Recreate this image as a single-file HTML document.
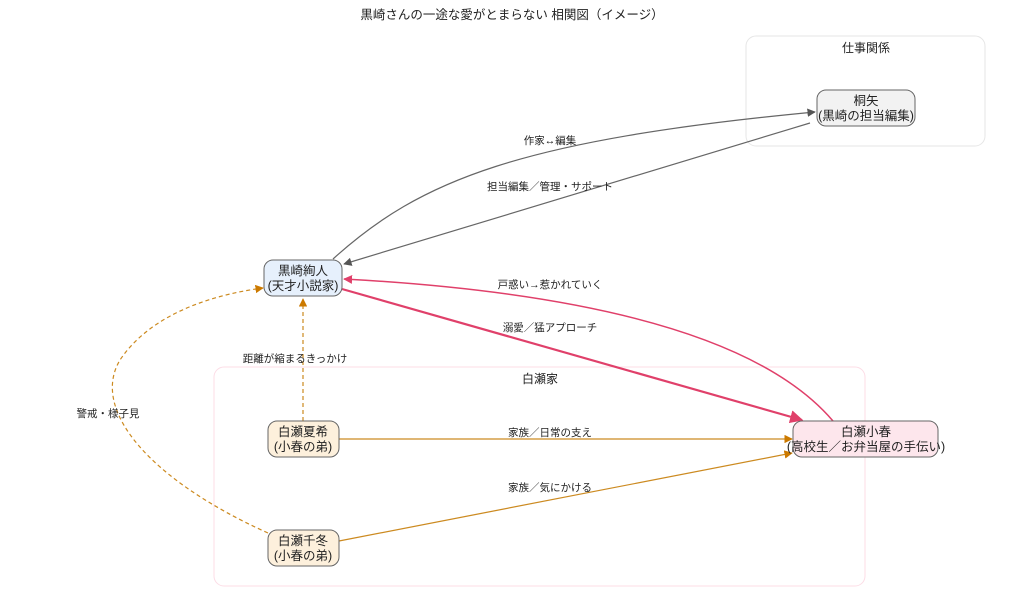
<!DOCTYPE html>
<html><head><meta charset="utf-8"><style>
html,body{margin:0;padding:0;background:#fff;}
svg{display:block;}
text{font-family:"Liberation Sans","Noto Sans CJK JP",sans-serif;fill:#222;}
</style></head><body>
<svg width="1024" height="601" viewBox="0 0 1024 601" xmlns="http://www.w3.org/2000/svg">
<defs>
<marker id="ag" viewBox="0 0 10 10" refX="9" refY="5" markerWidth="7" markerHeight="7" orient="auto"><path d="M0,0L10,5L0,10z" fill="#555"/></marker>
<marker id="ap" viewBox="0 0 10 10" refX="9" refY="5" markerWidth="6" markerHeight="6" orient="auto"><path d="M0,0L10,5L0,10z" fill="#e0406a"/></marker>
<marker id="ao" viewBox="0 0 10 10" refX="9" refY="5" markerWidth="7" markerHeight="7" orient="auto"><path d="M0,0L10,5L0,10z" fill="#cc7a00"/></marker>
</defs>
<text x="512" y="19" font-size="12.5" text-anchor="middle">黒崎さんの一途な愛がとまらない 相関図（イメージ）</text>
<rect x="746" y="36" width="239" height="110" rx="10" fill="none" stroke="#e6e6e6"/>
<text x="866" y="52" font-size="12" text-anchor="middle">仕事関係</text>
<rect x="214" y="367" width="651" height="219" rx="10" fill="none" stroke="#fcdde6"/>
<text x="540" y="383" font-size="12" text-anchor="middle">白瀬家</text>

<path d="M333,259 C420,180 520,140 815,112" fill="none" stroke="#666" stroke-width="1.2" marker-end="url(#ag)"/>
<path d="M810,123 L344,264" fill="none" stroke="#666" stroke-width="1.2" marker-end="url(#ag)"/>
<path d="M342,289 L802,420" fill="none" stroke="#e0406a" stroke-width="2.2" marker-end="url(#ap)"/>
<path d="M833,421 Q730,300 344,279" fill="none" stroke="#e0406a" stroke-width="1.5" marker-end="url(#ap)"/>
<path d="M339,439 L792,439" fill="none" stroke="#cc8a20" stroke-width="1.2" marker-end="url(#ao)"/>
<path d="M339,541 L792,453" fill="none" stroke="#cc8a20" stroke-width="1.2" marker-end="url(#ao)"/>
<path d="M303,421 L303,299" fill="none" stroke="#cc8a20" stroke-width="1.2" stroke-dasharray="4,3" marker-end="url(#ao)"/>
<path d="M268,533 C150,480 90,410 120,360 C150,315 210,295 263,288" fill="none" stroke="#cc8a20" stroke-width="1.2" stroke-dasharray="4,3" marker-end="url(#ao)"/>

<g font-size="10.5" text-anchor="middle">
<text x="550" y="144">作家↔編集</text>
<text x="550" y="190">担当編集／管理・サポート</text>
<text x="550" y="288">戸惑い→惹かれていく</text>
<text x="550" y="331">溺愛／猛アプローチ</text>
<text x="295" y="362">距離が縮まるきっかけ</text>
<text x="108" y="417">警戒・様子見</text>
<text x="550" y="436">家族／日常の支え</text>
<text x="550" y="491">家族／気にかける</text>
</g>

<g font-size="12.5" text-anchor="middle">
<rect x="817" y="90" width="98" height="36" rx="9" fill="#f2f2f2" stroke="#666"/>
<text x="866" y="105">桐矢</text><text x="866" y="120">(黒崎の担当編集)</text>
<rect x="264" y="260" width="78" height="36" rx="9" fill="#e6f0fc" stroke="#666"/>
<text x="303" y="275">黒崎絢人</text><text x="303" y="290">(天才小説家)</text>
<rect x="268" y="421" width="71" height="36" rx="9" fill="#fdf0dc" stroke="#666"/>
<text x="303" y="436">白瀬夏希</text><text x="303" y="451">(小春の弟)</text>
<rect x="268" y="530" width="71" height="36" rx="9" fill="#fdf0dc" stroke="#666"/>
<text x="303" y="545">白瀬千冬</text><text x="303" y="560">(小春の弟)</text>
<rect x="793" y="421" width="145" height="36" rx="9" fill="#fde6ec" stroke="#666"/>
<text x="866" y="436">白瀬小春</text><text x="866" y="451">(高校生／お弁当屋の手伝い)</text>
</g>
</svg>
</body></html>
